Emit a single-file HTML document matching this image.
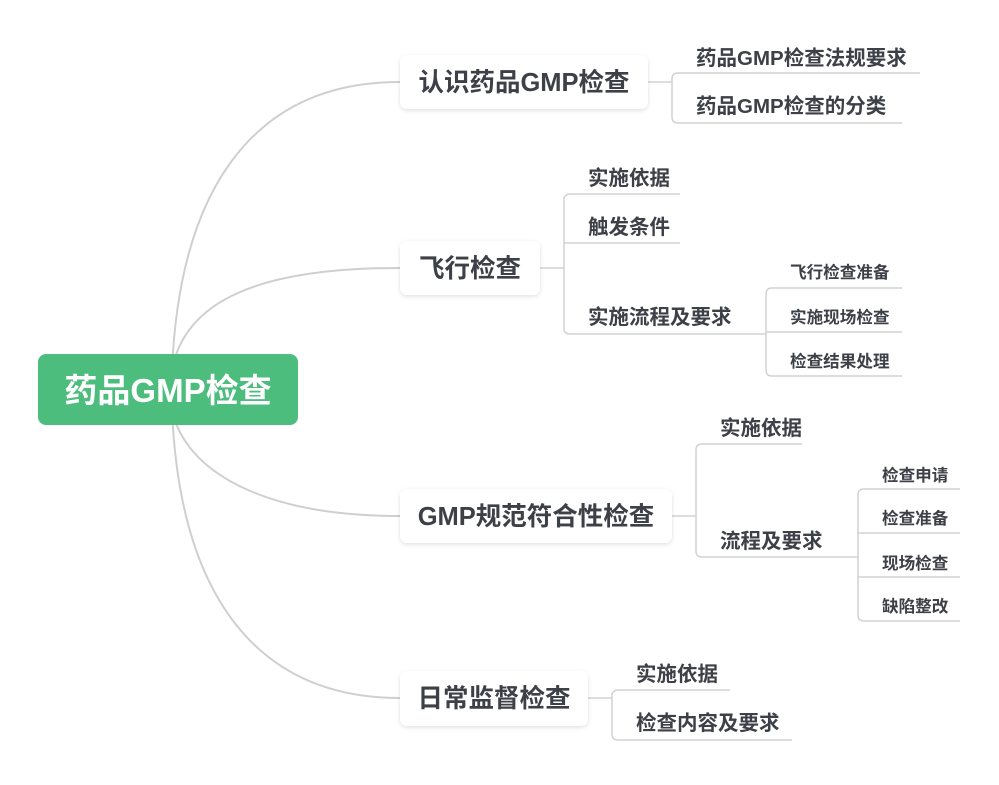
<!DOCTYPE html>
<html><head><meta charset="utf-8"><style>
body{margin:0;background:#fff;}
svg text{font-family:"Liberation Sans","Noto Sans CJK SC",sans-serif;font-weight:bold;fill:#3d4047;}
</style></head><body>
<svg width="999" height="780" viewBox="0 0 999 780" xmlns="http://www.w3.org/2000/svg">
<defs>
<filter id="sh" x="-10%" y="-20%" width="120%" height="150%"><feDropShadow dx="0" dy="1.5" stdDeviation="2" flood-color="#000" flood-opacity="0.12"/></filter>
</defs>
<g fill="none" stroke="#cfcfcf" stroke-width="2">
<path d="M172 370 C180 180 260 82 400 82"/>
<path d="M172 370 C185 300 260 268 400 268"/>
<path d="M172 410 C185 470 260 516 400 516"/>
<path d="M172 410 C180 600 260 698 400 698"/>
</g>
<g fill="none" stroke="#d2d2d2" stroke-width="1.5">
<path d="M648 82 H672"/>
<path d="M920 73 H678 Q672 73 672 79 V117 Q672 123 678 123 H902"/>
<path d="M540 268 H564"/>
<path d="M680 194 H570 Q564 194 564 200 V328 Q564 334 570 334 H766"/>
<path d="M564 243 H680"/>
<path d="M902 288 H772 Q766 288 766 294 V370 Q766 376 772 376 H902"/>
<path d="M766 332 H902"/>
<path d="M672 516 H696"/>
<path d="M802 444 H702 Q696 444 696 450 V551 Q696 557 702 557 H858"/>
<path d="M960 489 H864 Q858 489 858 495 V615 Q858 621 864 621 H960"/>
<path d="M858 533 H960"/>
<path d="M858 577 H960"/>
<path d="M588 698 H612"/>
<path d="M730 690 H618 Q612 690 612 696 V734 Q612 740 618 740 H792"/>
</g>
<rect x="38" y="354" width="260" height="71" rx="8" fill="#4dbd7e"/>
<text x="168" y="402" font-size="33" text-anchor="middle" style="fill:#fff">药品GMP检查</text>
<g fill="#fff" filter="url(#sh)">
<rect x="400" y="55" width="248" height="54" rx="7"/>
<rect x="400" y="241" width="140" height="54" rx="7"/>
<rect x="400" y="489" width="272" height="54" rx="7"/>
<rect x="400" y="671" width="188" height="55" rx="7"/>
</g>
<g font-size="25.5" text-anchor="middle">
<text x="524" y="91">认识药品GMP检查</text>
<text x="470" y="277">飞行检查</text>
<text x="536" y="525">GMP规范符合性检查</text>
<text x="494" y="707">日常监督检查</text>
</g>
<g font-size="20.5">
<text x="696" y="65">药品GMP检查法规要求</text>
<text x="696" y="113">药品GMP检查的分类</text>
<text x="588" y="185">实施依据</text>
<text x="588" y="234">触发条件</text>
<text x="588" y="324">实施流程及要求</text>
<text x="720" y="435">实施依据</text>
<text x="720" y="548">流程及要求</text>
<text x="636" y="681">实施依据</text>
<text x="636" y="730">检查内容及要求</text>
</g>
<g font-size="16.6">
<text x="790" y="278">飞行检查准备</text>
<text x="790" y="323">实施现场检查</text>
<text x="790" y="367">检查结果处理</text>
<text x="882" y="481">检查申请</text>
<text x="882" y="524">检查准备</text>
<text x="882" y="569">现场检查</text>
<text x="882" y="612">缺陷整改</text>
</g>
</svg>
</body></html>
